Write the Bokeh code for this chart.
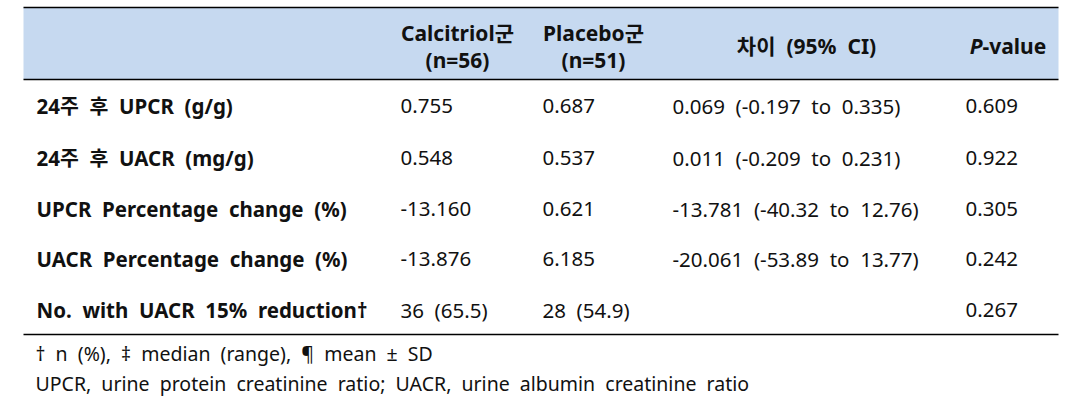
from bokeh.plotting import figure
from bokeh.models import Range1d, ColumnDataSource
from bokeh.core.properties import value
from bokeh.embed import file_html
from bokeh.resources import INLINE

# ---- data ----
row_labels = ["24주  후  UPCR  (g/g)", "24주  후  UACR  (mg/g)",
              "UPCR  Percentage  change  (%)", "UACR  Percentage  change  (%)",
              "No.  with  UACR  15%  reduction†"]
calcitriol = ["0.755", "0.548", "-13.160", "-13.876", "36  (65.5)"]
placebo = ["0.687", "0.537", "0.621", "6.185", "28  (54.9)"]
diff_ci = ["0.069  (-0.197  to  0.335)", "0.011  (-0.209  to  0.231)",
           "-13.781  (-40.32  to  12.76)", "-20.061  (-53.89  to  13.77)", ""]
p_values = ["0.609", "0.922", "0.305", "0.242", "0.267"]
footnotes = ["†  n  (%),  ‡  median  (range),  ¶  mean  ±  SD",
             "UPCR,  urine  protein  creatinine  ratio;  UACR,  urine  albumin  creatinine  ratio"]

def sp(s):
    return s.replace("  ", " \u00a0")

FONT = value("Noto Sans, Noto Sans CJK KR")

p = figure(width=1092, height=409, output_backend="svg", toolbar_location=None,
           x_range=Range1d(0, 1092), y_range=Range1d(409, 0),
           min_border=0)
p.axis.visible = False
p.grid.visible = False
p.outline_line_color = None
p.background_fill_color = "white"
p.border_fill_color = "white"

L, R = 23, 1058
# header background
p.quad(left=[L], right=[R], top=[7], bottom=[79], fill_color="#c6d9f0", line_color=None)
# rules
p.segment(x0=[L, L, L], x1=[R, R, R], y0=[7, 79, 334], y1=[7, 79, 334],
          line_color="black", line_width=1.5)

# header
hs = "21px"
p.text(x=[457, 593], y=[32, 32], text=["Calcitriol군", "Placebo군"], text_font=FONT,
       text_font_style="bold", text_font_size=hs, text_align="center",
       text_baseline="middle", text_color="#111111")
p.text(x=[457, 593], y=[59, 59], text=["(n=56)", "(n=51)"], text_font=FONT,
       text_font_style="bold", text_font_size=hs, text_align="center",
       text_baseline="middle", text_color="#111111")
p.text(x=[806], y=[45], text=[sp("차이  (95%  CI)")], text_font=FONT,
       text_font_style="bold", text_font_size=hs, text_align="center",
       text_baseline="middle", text_color="#111111")
p.text(x=[982], y=[45], text=["P"], text_font=FONT,
       text_font_style="bold italic", text_font_size=hs, text_align="right",
       text_baseline="middle", text_color="#111111")
p.text(x=[982], y=[45], text=["-value"], text_font=FONT,
       text_font_style="bold", text_font_size=hs, text_align="left",
       text_baseline="middle", text_color="#111111")

ys = [105, 157, 208, 258, 309]
fs = "20.5px"
src = ColumnDataSource(dict(y=ys, lab=[sp(s) for s in row_labels],
                            c1=[sp(s) for s in calcitriol], c2=[sp(s) for s in placebo],
                            c3=[sp(s) for s in diff_ci], c4=p_values))
p.text(x=36, y="y", text="lab", source=src, text_font=FONT, text_font_style="bold",
       text_font_size=fs, text_baseline="middle", text_color="#111111")
for x, col in [(400, "c1"), (542, "c2"), (672, "c3"), (965, "c4")]:
    p.text(x=x, y="y", text=col, source=src, text_font=FONT,
           text_font_size=fs, text_baseline="middle", text_color="#111111")

p.text(x=[35, 35], y=[353, 383], text=[sp(s) for s in footnotes], text_font=FONT,
       text_font_size="19.5px", text_baseline="middle", text_color="#111111")

open("out.html", "w").write(file_html(p, INLINE))
